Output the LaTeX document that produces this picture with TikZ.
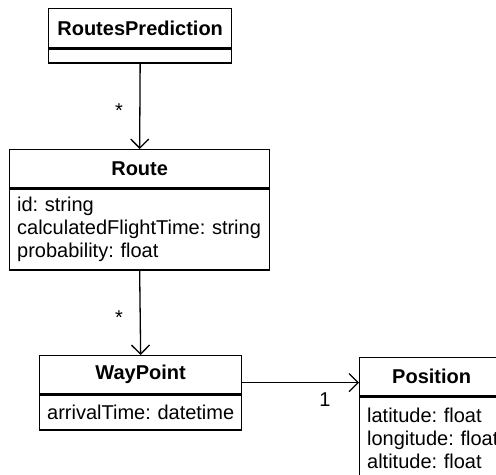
\documentclass[tikz,border=0pt]{standalone}
\usepackage{fontspec}
\setmainfont{Liberation Sans}
\usetikzlibrary{arrows.meta}
\frenchspacing
\begin{document}
\begin{tikzpicture}[x=1bp,y=-1bp,
  every node/.style={font=\fontsize{20bp}{23bp}\selectfont},
  box/.style={draw, line width=1.3bp, rectangle, inner sep=0pt},
  hdr/.style={box, font=\fontsize{20bp}{23bp}\selectfont\bfseries, anchor=north west},
  body/.style={box, anchor=north, align=left, inner xsep=7.5bp},
  assoc/.style={line width=1.3bp, -{Straight Barb[length=9bp,width=18bp,line width=1.3bp]}},
  mult/.style={inner sep=0pt}
]
\useasboundingbox (0,0) rectangle (496,475);
\begin{scope}
\clip (0,0) rectangle (496,475);
% RoutesPrediction
\node[hdr, minimum width=183bp, minimum height=39bp] (rph) at (48,8) {RoutesPrediction};
\node[box, anchor=north, minimum width=183bp, minimum height=14bp] (rpb) at (rph.south) {};
% Route
\node[hdr, minimum width=260bp, minimum height=38bp] (rh) at (9,149) {Route};
\node[body, text width=245bp, minimum height=81bp] (rb) at (rh.south) {id: string\\\mbox{calculatedFlightTime: string}\\probability: float};
% WayPoint
\node[hdr, minimum width=202bp, minimum height=38bp] (wh) at (39,355) {WayPoint};
\node[body, text width=187bp, minimum height=35bp] (wb) at (wh.south) {\mbox{arrivalTime: datetime}};
% Position
\node[hdr, minimum width=144bp, minimum height=38bp] (ph) at (359,357) {Position};
\node[body, text width=129bp, minimum height=83bp] (pb) at (ph.south) {latitude: float\\\mbox{longitude: float}\\altitude: float};
% connectors
\draw[assoc] (rpb.south) -- (rh.north);
\node[mult] (m1) at (119,111) {*};
\draw[assoc] (rb.south) -- (wh.north);
\node[mult] (m2) at (119,318) {*};
\coordinate (wpout) at ([yshift=-8bp]wh.east);
\draw[assoc] (wpout) -- (wpout -| ph.west);
\node[mult] (m3) at (325,400) {1};
\end{scope}
\end{tikzpicture}
\end{document}
